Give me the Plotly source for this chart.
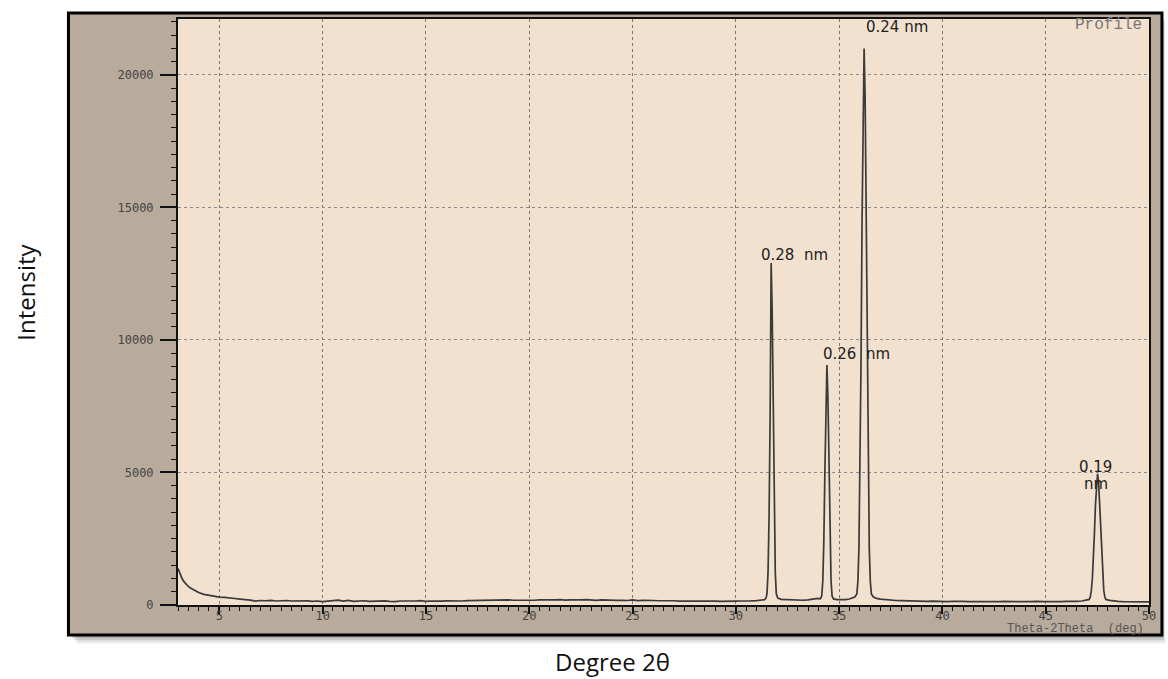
import plotly.graph_objects as go

# ---------------- data ----------------
# background before the first reflection: (2theta, intensity)
background_low = [
    (3.0, 1380), (3.1, 1150), (3.2, 990), (3.3, 870), (3.4, 770), (3.5, 700),
    (3.6, 640), (3.7, 590), (3.8, 545), (3.9, 500), (4.0, 470), (4.25, 400),
    (4.5, 370), (4.75, 320), (5.0, 300), (5.25, 290), (5.5, 255), (5.75, 245),
    (6.0, 225), (6.25, 215), (6.5, 185), (6.75, 150), (7.0, 170), (7.25, 160),
    (7.5, 175), (7.75, 150), (8.0, 165), (8.25, 170), (8.5, 150), (8.75, 160),
    (9.0, 145), (9.25, 155), (9.5, 140), (9.75, 150), (10.0, 125), (10.25, 150),
    (10.5, 160), (10.75, 185), (11.0, 145), (11.25, 175), (11.5, 140), (11.75, 150),
    (12.0, 160), (12.25, 135), (12.5, 150), (12.75, 145), (13.0, 155), (13.25, 140),
    (13.5, 130), (13.75, 150), (14.0, 145), (14.25, 160), (14.5, 150), (14.75, 165),
    (15.0, 140), (15.25, 150), (15.5, 135), (15.75, 145), (16.0, 155), (16.25, 150),
    (16.5, 160), (16.75, 150), (17.0, 165), (17.25, 170), (17.5, 160), (17.75, 175),
    (18.0, 180), (18.25, 165), (18.5, 185), (18.75, 175), (19.0, 190), (19.25, 180),
    (19.5, 175), (19.75, 190), (20.0, 185), (20.25, 180), (20.5, 195), (20.75, 185),
    (21.0, 180), (21.25, 190), (21.5, 205), (21.75, 185), (22.0, 195), (22.25, 180),
    (22.5, 190), (22.75, 200), (23.0, 185), (23.25, 175), (23.5, 195), (23.75, 180),
    (24.0, 185), (24.25, 175), (24.5, 180), (24.75, 170), (25.0, 190), (25.25, 165),
    (25.5, 175), (25.75, 160), (26.0, 170), (26.25, 160), (26.5, 165), (26.75, 150),
    (27.0, 160), (27.25, 145), (27.5, 155), (27.75, 150), (28.0, 145), (28.25, 150),
    (28.5, 140), (28.75, 150), (29.0, 145), (29.25, 140), (29.5, 150), (29.75, 140),
    (30.0, 145), (30.25, 150), (30.5, 140), (30.75, 155), (31.0, 165), (31.2, 190),
]

peak_028 = [
    (31.39, 200), (31.46, 260), (31.51, 420), (31.56, 1230), (31.61, 3340),
    (31.66, 7030), (31.71, 11080), (31.71, 12900), (31.76, 11080), (31.81, 7030),
    (31.86, 3340), (31.91, 1230), (31.96, 420), (32.03, 260), (32.2, 215),
]

between_1 = [
    (32.5, 205), (32.75, 185), (33.0, 175), (33.25, 180), (33.5, 195),
    (33.75, 225), (33.95, 250),
]

peak_026 = [
    (34.09, 230), (34.16, 340), (34.21, 910), (34.26, 2370), (34.31, 4960),
    (34.36, 7780), (34.41, 9050), (34.46, 7780), (34.51, 4960), (34.56, 2370),
    (34.61, 910), (34.66, 340), (34.73, 230), (34.9, 205),
]

between_2 = [
    (35.1, 195), (35.3, 200), (35.5, 225), (35.61, 250),
]

peak_024 = [
    (35.76, 300), (35.86, 420), (35.91, 900), (35.96, 2150), (36.01, 4740),
    (36.06, 9120), (36.11, 14430), (36.16, 19130), (36.21, 21000), (36.26, 19130),
    (36.31, 14430), (36.36, 9120), (36.41, 4740), (36.46, 2150), (36.51, 900),
    (36.56, 420), (36.66, 300), (36.81, 250), (37.0, 225),
]

background_mid = [
    (37.25, 200), (37.5, 185), (37.75, 170), (38.0, 165), (38.25, 155), (38.5, 160),
    (38.75, 145), (39.0, 150), (39.25, 140), (39.5, 145), (39.75, 135), (40.0, 140),
    (40.25, 130), (40.5, 140), (40.75, 125), (41.0, 135), (41.25, 130), (41.5, 125),
    (41.75, 135), (42.0, 130), (42.25, 120), (42.5, 130), (42.75, 125), (43.0, 135),
    (43.25, 120), (43.5, 125), (43.75, 130), (44.0, 120), (44.25, 125), (44.5, 135),
    (44.75, 120), (45.0, 125), (45.25, 130), (45.5, 120), (45.75, 130), (46.0, 135),
    (46.25, 130), (46.5, 140), (46.75, 150), (46.95, 170),
]

peak_019 = [
    (47.11, 210), (47.16, 310), (47.21, 560), (47.26, 1010), (47.31, 1730),
    (47.36, 2740), (47.41, 3800), (47.46, 4630), (47.51, 4950), (47.56, 4630),
    (47.61, 3800), (47.66, 2740), (47.71, 1730), (47.76, 1010), (47.81, 560),
    (47.86, 310), (47.91, 210),
]

background_high = [
    (48.1, 175), (48.3, 150), (48.5, 140), (48.75, 130), (49.0, 125),
    (49.25, 130), (49.5, 120), (49.75, 125), (50.0, 120),
]

# peak labels (d-spacings)
label_text = ["0.28  nm", "0.26  nm", "0.24 nm", "0.19", "nm"]
label_x = [32.82, 35.85, 37.78, 47.42, 47.42]
label_y = [13200, 9470, 21800, 5210, 4570]

x_range = [3, 50]
y_range = [0, 22110]

# ---------------- figure ----------------
segments = [background_low, peak_028, between_1, peak_026, between_2,
            peak_024, background_mid, peak_019, background_high]
two_theta = [p[0] for s in segments for p in s]
intensity = [p[1] for s in segments for p in s]

W, H = 1168, 679
L, R, T, B = 178, 15, 19, 74
PW, PH = W - L - R, H - T - B


def px(x):
    return (x - L) / PW


def py(y):
    return (H - B - y) / PH


fig = go.Figure()
fig.add_trace(go.Scatter(
    x=two_theta, y=intensity, mode="lines",
    line=dict(color="#3a3a3a", width=1.7),
    hoverinfo="skip", showlegend=False,
))

shapes = []
# soft shadow of the instrument frame
for off, alpha in [(9, 0.05), (7, 0.07), (5, 0.09), (3, 0.12)]:
    shapes.append(dict(type="rect", xref="paper", yref="paper", layer="below",
                       x0=px(68 + off), x1=px(1166 + off * 0.4),
                       y0=py(635 + off), y1=py(13 + off),
                       fillcolor=f"rgba(0,0,0,{alpha})", line=dict(width=0)))
# grey frame with black border
shapes.append(dict(type="rect", xref="paper", yref="paper", layer="below",
                   x0=px(68), x1=px(1166), y0=py(635), y1=py(13),
                   fillcolor="#b8ab9c", line=dict(color="#000000", width=3)))
# beige plotting area
shapes.append(dict(type="rect", xref="paper", yref="paper", layer="below",
                   x0=0, x1=1, y0=0, y1=1,
                   fillcolor="#f2e1cf", line=dict(width=0)))

annotations = []
for t, xv, yv in zip(label_text, label_x, label_y):
    annotations.append(dict(x=xv, y=yv, xref="x", yref="y", text=t,
                            showarrow=False, xanchor="center", yanchor="middle",
                            font=dict(family="DejaVu Sans", size=15, color="#222222")))

annotations += [
    dict(x=px(1150), y=py(629), xref="paper", yref="paper",
         text="Theta-2Theta  (deg)", showarrow=False, xanchor="right", yanchor="middle",
         font=dict(family="Liberation Mono", size=12, color="#555555")),
    dict(x=px(1148), y=py(25), xref="paper", yref="paper",
         text="Profile", showarrow=False, xanchor="right", yanchor="middle",
         font=dict(family="Liberation Mono", size=16, color="#777777")),
    dict(x=px(24), y=py(292), xref="paper", yref="paper",
         text="Intensity", showarrow=False, textangle=-90,
         xanchor="center", yanchor="middle",
         font=dict(family="Open Sans", size=24, color="#111111")),
    dict(x=px(614), y=py(661), xref="paper", yref="paper",
         text="Degree 2θ", showarrow=False, xanchor="center", yanchor="middle",
         font=dict(family="Open Sans", size=24, color="#111111")),
]

tickfont = dict(family="DejaVu Sans Mono", size=12, color="#444444")

fig.update_layout(
    width=W, height=H,
    margin=dict(l=L, r=R, t=T, b=B, pad=0),
    paper_bgcolor="#ffffff",
    plot_bgcolor="rgba(0,0,0,0)",
    shapes=shapes,
    annotations=annotations,
    showlegend=False,
    xaxis=dict(
        range=x_range, tick0=0, dtick=5, ticks="outside", ticklen=7,
        tickwidth=1.5, tickcolor="#111111", tickfont=tickfont,
        ticklabelstandoff=-8,
        minor=dict(dtick=0.5, ticklen=4, tickwidth=1, tickcolor="#111111",
                   ticks="outside", showgrid=False),
        showgrid=True, gridcolor="#777777", griddash="dot", gridwidth=1.2,
        showline=True, linecolor="#111111", linewidth=2, mirror=True,
        zeroline=False, fixedrange=True,
    ),
    yaxis=dict(
        range=y_range, tick0=0, dtick=5000, tickformat="d", ticks="outside", ticklen=16,
        tickwidth=1.5, tickcolor="#111111", tickfont=tickfont,
        ticklabelstandoff=4,
        minor=dict(dtick=500, ticklen=5, tickwidth=1, tickcolor="#111111",
                   ticks="outside", showgrid=False),
        showgrid=True, gridcolor="#8c8c8c", griddash="dot", gridwidth=1,
        showline=True, linecolor="#111111", linewidth=2, mirror=True,
        zeroline=False, fixedrange=True,
    ),
)

fig.write_html(
    "out.html",
    config={"displayModeBar": False},
    post_script="document.body.style.margin='0';document.body.style.padding='0';",
)
